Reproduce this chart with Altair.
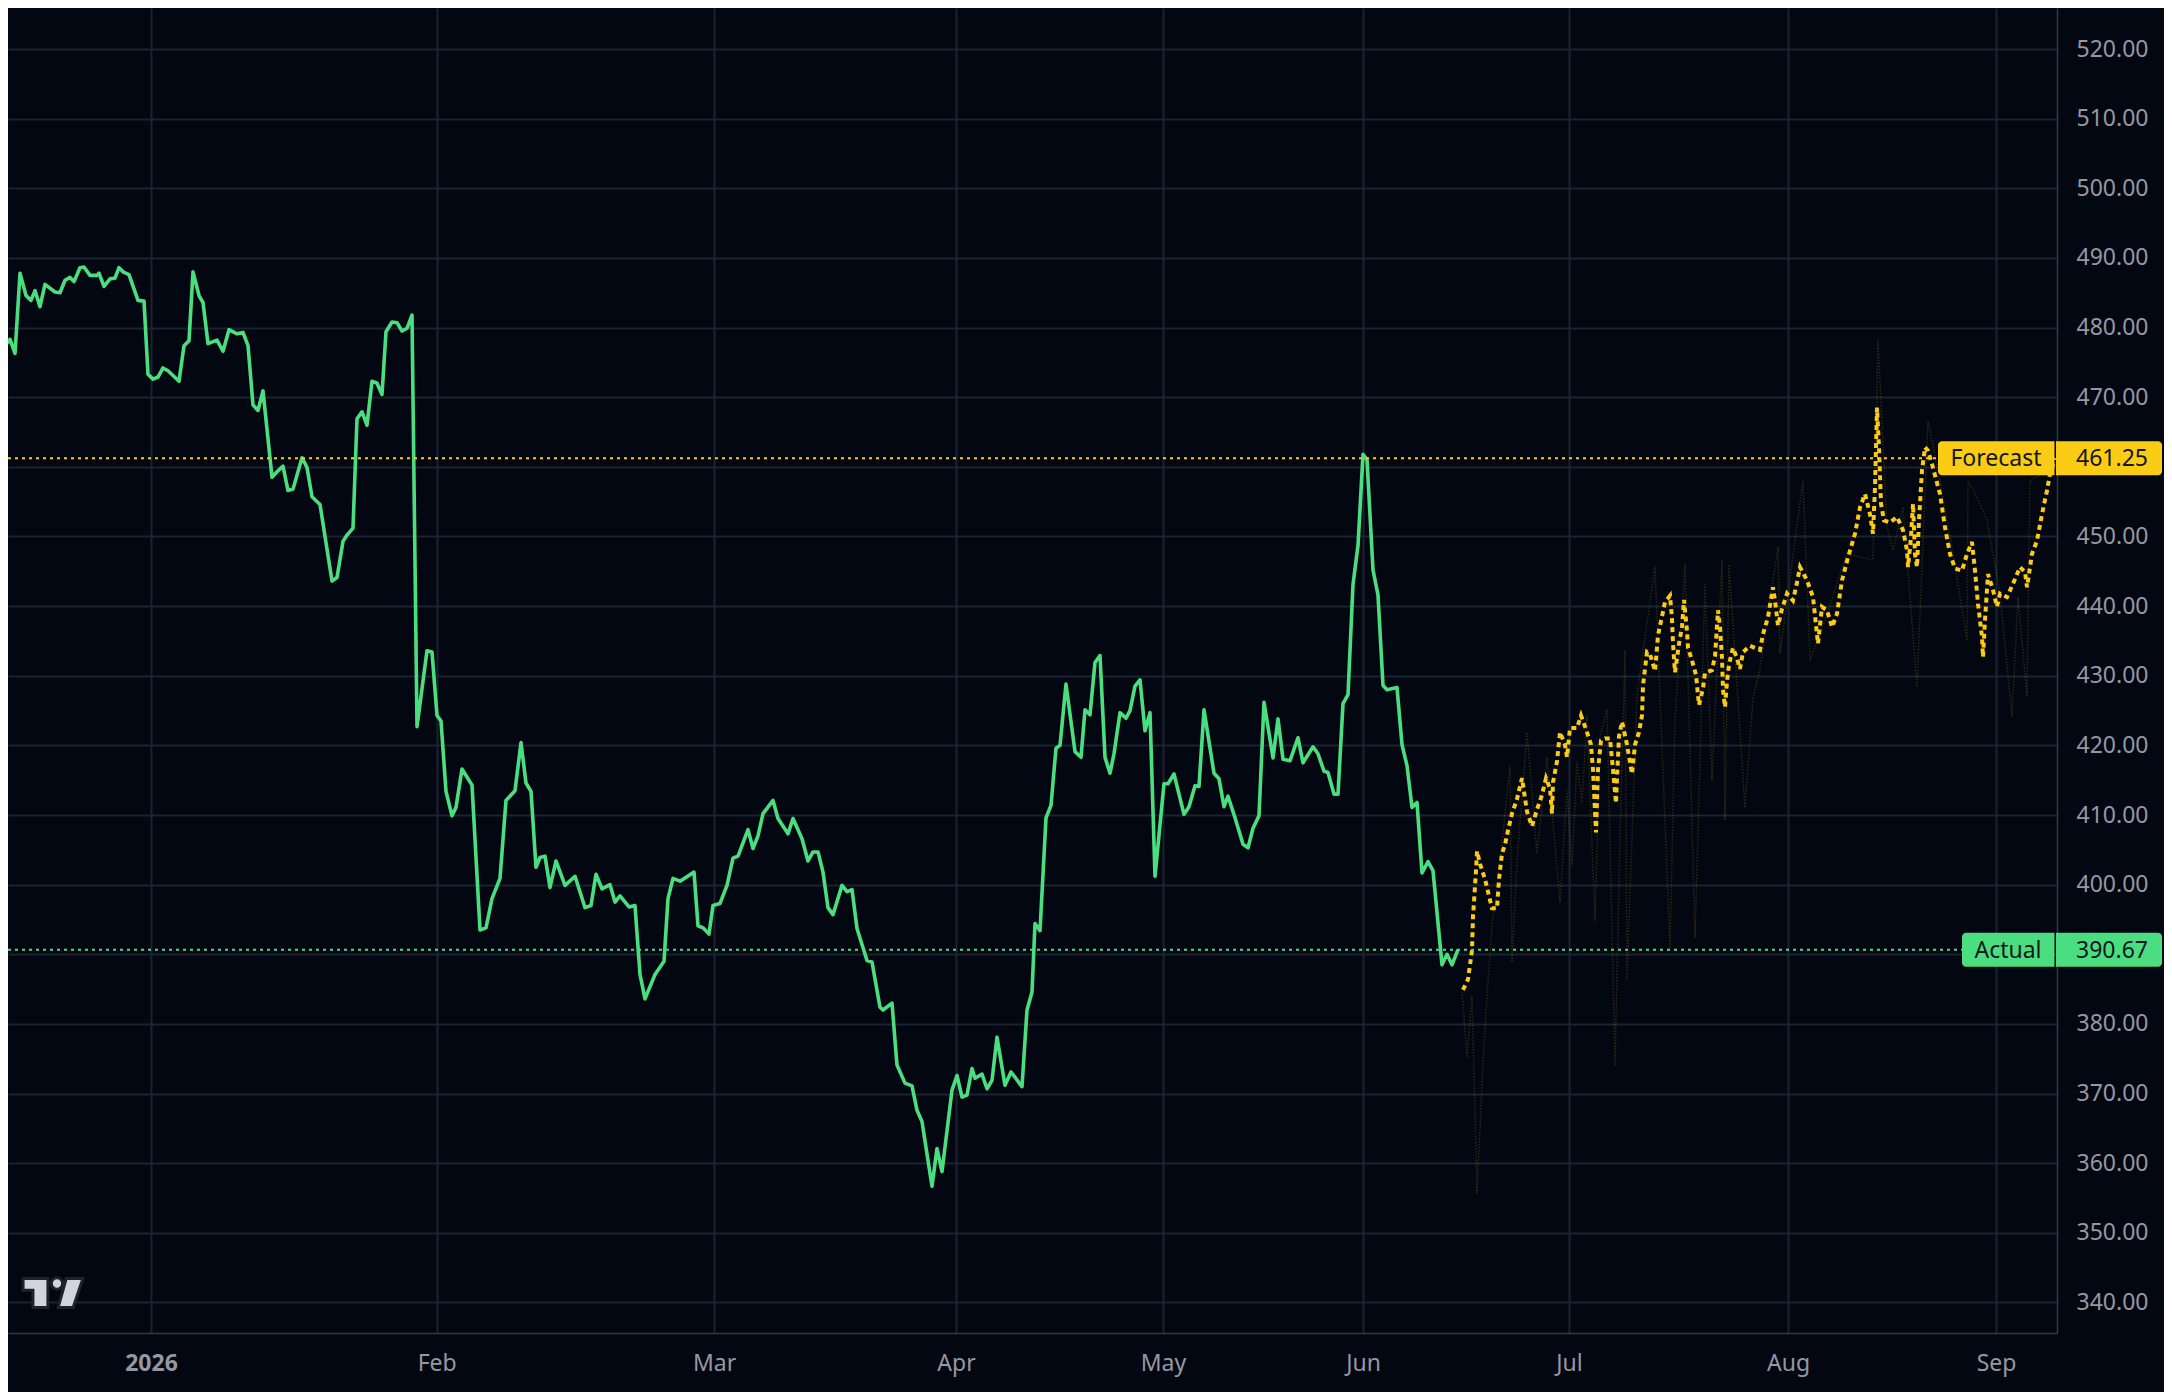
import json
import altair as alt
import pandas as pd

# ---------------- data (t = trading-session index, price in USD) ----------------
actual_jan = [(0.0,476.4),(1.0,478.3),(1.5,476.3),(2.0,487.8),(2.6,484.6),(3.1,483.9),(3.5,485.3),(4.0,483.0),
    (4.5,486.2),(5.5,485.1),(6.0,485.0),(6.5,486.8),(7.0,487.2),(7.4,486.6),(8.0,488.6),(8.4,488.7),(9.0,487.5),
    (9.7,487.5),(9.9,487.8),(10.4,485.9),(11.0,487.0),(11.5,487.1),(11.9,488.6),(12.3,488.0),(12.9,487.6),
    (13.8,483.9),(14.4,483.8),(14.8,473.3),(15.3,472.6),(15.8,472.9),(16.3,474.2),(16.8,473.8),(17.9,472.3),
    (18.4,477.4),(18.9,478.1),(19.3,488.0),(19.9,484.6),(20.3,483.6),(20.8,477.7),(21.7,478.2),(22.3,476.6),
    (22.9,479.7),(23.7,479.1),(24.3,479.3),(24.8,477.4),(25.3,468.9),(25.8,468.1),(26.3,470.9),(27.2,458.5),
    (27.7,459.3),(28.3,460.1),(28.8,456.6),(29.3,456.8),(30.2,461.3),(30.7,459.9),(31.2,455.7),(32.0,454.6),
    (33.2,443.6),(33.7,444.1),(34.3,449.3),(34.7,450.2),(35.3,451.2),(35.7,466.9),(36.2,467.9),(36.7,466.0),
    (37.2,472.3),(37.7,472.0),(38.2,470.4),(38.6,479.4),(39.2,480.8),(39.7,480.7),(40.2,479.5),(40.7,479.9),
    (41.2,481.8),(41.7,422.7),(42.7,433.6),(43.2,433.4)]
actual_feb = [(43.7,424.3),(44.1,423.5),(44.6,413.4),(45.2,409.9),(45.6,411.1),(46.2,416.6),(47.2,414.3),
    (48.0,393.5),(48.6,393.8),(49.2,398.0),(50.0,400.9),(50.6,412.1),(51.5,413.5),(52.1,420.4),(52.6,414.6),
    (53.1,413.4),(53.6,402.5),(54.0,403.9),(54.5,404.1),(55.0,399.6),(55.6,403.4),(56.5,399.9),(57.5,401.2),
    (58.5,396.7),(59.1,397.0),(59.6,401.5),(60.2,399.4),(61.0,400.0),(61.5,397.5),(62.0,398.4),(62.9,396.8),
    (63.5,397.0),(64.0,387.1),(64.5,383.6),(65.5,387.1),(66.4,389.0),(66.8,398.0),(67.3,400.9),(68.0,400.5),
    (69.4,401.8),(69.8,394.1),(70.3,393.8),(70.9,392.9),(71.3,397.0)]
actual_mar = [(72.0,397.3),(72.7,399.9),(73.3,403.8),(73.8,404.1),(74.8,407.9),(75.3,405.2),(75.8,407.0),
    (76.3,410.2),(77.3,412.1),(77.8,409.5),(78.8,407.3),(79.3,409.5),(80.2,406.6),(80.8,403.4),(81.3,404.7),
    (81.8,404.7),(82.3,401.8),(82.8,396.7),(83.3,395.7),(84.2,399.9),(84.7,399.0),(85.2,399.3),(85.7,393.7),
    (86.7,389.1),(87.2,388.9),(88.0,382.4),(88.3,382.0),(89.2,383.0),(89.7,374.1),(90.5,371.5),(91.2,371.1),
    (91.7,367.6),(92.2,366.0),(93.2,356.7),(93.7,362.1),(94.2,358.8),(95.2,370.5)]
actual_apr = [(95.7,372.6),(96.2,369.5),(96.7,369.8),(97.2,373.6),(97.5,372.2),(98.2,372.8),(98.7,370.7),
    (99.2,371.9),(99.7,378.1),(100.5,371.2),(101.1,373.1),(102.2,371.0),(102.7,382.0),(103.2,384.6),
    (103.5,394.4),(104.0,393.4),(104.6,409.6),(105.1,411.4),(105.6,419.6),(106.0,420.0),(106.6,428.8),
    (107.5,419.1),(108.1,418.3),(108.5,425.1),(109.0,424.4),(109.5,431.9),(110.0,432.9),(110.5,418.3),
    (111.0,416.0),(111.4,418.8),(112.0,424.7),(112.6,423.9),(113.0,425.0),(113.5,428.5),(114.0,429.4),
    (114.5,422.1),(115.0,424.7),(115.5,401.2),(116.4,414.5)]
actual_may = [(116.8,414.5),(117.4,415.9),(118.4,410.1),(118.9,411.2),(119.5,414.2),(119.9,414.1),
    (120.4,425.1),(121.4,416.0),(121.9,415.2),(122.4,411.2),(122.8,412.7),(123.5,409.6),(124.3,405.8),
    (124.8,405.3),(125.3,408.1),(125.9,409.9),(126.4,426.2),(127.3,418.2),(127.8,423.8),(128.3,418.0),
    (129.0,417.8),(129.8,421.1),(130.3,417.5),(131.3,419.8),(131.8,418.8),(132.4,416.3),(132.8,416.1),
    (133.4,413.0),(133.8,413.0),(134.3,426.0),(134.8,427.3),(135.3,443.1),(135.8,448.7),(136.3,461.8)]
actual_jun = [(136.7,461.0),(137.3,445.2),(137.8,441.6),(138.3,428.6),(138.7,428.0),(139.7,428.3),
    (140.2,420.1),(140.7,417.1),(141.2,411.1),(141.7,411.8),(142.2,401.7),(142.8,403.3),(143.3,402.0),
    (144.2,388.5),(144.7,390.0),(145.2,388.5),(145.8,390.67)]

forecast_jun = [(146.3,384.9),(146.8,386.4),(147.2,390.6),(147.3,395.4),(147.6,402.0),(147.7,404.8),
    (148.0,403.0),(148.5,400.8),(148.8,399.0),(149.2,396.6),(149.7,396.6),(149.9,400.8),(150.2,404.5),
    (150.5,405.7),(150.8,407.8),(151.2,410.2),(151.7,412.3),(152.2,415.3),(152.7,410.5),(153.2,408.4),
    (153.7,410.8),(154.2,412.9),(154.6,415.3),(155.0,413.8),(155.2,410.2),(155.3,414.7),(155.7,417.7),
    (156.0,421.9),(156.5,420.1),(156.7,418.3)]
forecast_jul = [(157.0,422.5),(157.7,422.5),(158.1,424.3),(158.7,421.9),(159.1,420.1),(159.3,416.5),
    (159.5,410.5),(159.6,407.5),(159.8,416.5),(160.1,420.7),(160.5,421.0),(161.0,421.0),(161.3,416.5),
    (161.6,411.7),(161.7,415.3),(161.9,421.3),(162.2,423.4),(162.7,420.1),(163.2,415.9),(163.5,420.1),
    (163.9,421.9),(164.2,424.3),(164.3,428.6),(164.7,433.4),(165.0,433.1),(165.5,430.7),(165.8,435.8),
    (166.2,438.5),(166.5,440.6),(167.0,441.5),(167.2,438.2),(167.3,434.6),(167.5,430.5),(167.9,434.6),
    (168.2,437.0),(168.4,440.9),(168.7,436.4),(168.8,434.0),(169.2,432.2),(169.6,430.1),(169.9,425.8),
    (170.3,428.2),(170.5,430.4),(171.2,430.8),(171.5,432.8),(171.8,439.4),(172.0,437.0),(172.2,432.5),
    (172.3,428.0),(172.5,425.5),(172.7,429.2),(172.9,431.6),(173.3,434.0),(173.7,432.5),(174.0,431.0),
    (174.3,433.4),(175.0,434.3),(176.0,433.7),(176.3,436.0),(176.8,438.4),(177.3,442.7),(177.5,440.8),
    (177.8,437.2),(178.2,439.6)]
forecast_aug = [(178.7,441.8),(179.3,440.8),(179.7,443.4),(180.0,445.6),(180.7,443.7),(181.3,441.3),
    (181.8,434.6),(182.2,439.9),(182.7,439.4),(183.2,437.0),(183.7,438.9),(184.2,443.7),(184.8,447.0),
    (185.5,450.4),(186.0,454.2),(186.5,456.1),(187.0,453.2),(187.3,450.4),(187.5,457.1),(187.7,468.5),
    (187.9,462.8),(188.1,454.7),(188.4,452.3),(189.0,452.0),(189.7,452.8),(190.3,450.9),(190.7,448.0),
    (190.8,445.6),(191.1,449.9),(191.3,454.7),(191.5,447.5),(191.7,445.6),(191.9,452.3),(192.2,459.5),
    (192.5,462.8),(192.8,462.3),(193.2,460.4),(194.0,456.1),(194.5,451.3),(195.0,447.5),(195.5,445.4),
    (196.2,445.1),(196.7,447.5),(197.2,449.2),(197.5,445.1),(197.8,440.3),(198.2,435.6),(198.3,432.7),
    (198.5,438.0),(198.8,444.6),(199.3,442.3)]
forecast_sep = [(199.7,439.9),(200.0,441.8),(200.7,441.3),(201.3,443.2),(202.0,445.6),(202.5,444.9),
    (202.7,442.7),(203.2,447.5),(203.7,449.4),(204.2,453.2),(204.7,456.6),(205.0,459.0),(205.5,461.25)]

forecast_band = [(146.2,384.6),(146.7,375.2),(147.2,384.0),(147.7,355.7),(148.3,374.3),(148.7,384.0),
    (149.2,394.2),(149.7,399.0),(151.0,417.1),(151.2,388.8),(151.7,403.3),(152.7,421.9),(153.7,404.5),
    (154.7,418.3),(156.0,397.5),(156.7,413.5),(157.2,402.7),(157.7,417.7),(158.2,411.7),(158.7,424.3),
    (159.5,394.8),(160.0,421.3),(160.7,425.2),(161.5,374.0),(162.0,406.9),(162.5,433.7),(162.7,386.4),
    (163.7,427.3),(165.5,445.7),(167.0,390.6),(167.5,423.7),(168.5,446.0),(169.5,392.4),(170.5,443.3),
    (171.2,415.0),(172.2,446.6),(172.5,409.3),(172.9,446.0),(174.5,411.1),(175.3,426.7),(176.0,431.0),
    (177.8,448.5),(178.0,433.2),(180.3,458.0),(181.0,432.2),(182.5,438.0),(184.7,447.5),(187.3,446.6),
    (187.8,478.3),(188.7,451.3),(189.3,448.0),(190.3,454.2),(191.7,428.4),(192.8,466.6),(194.0,458.0),
    (195.3,447.5),(196.7,435.1),(196.8,458.0),(197.7,455.6),(198.7,452.3),(200.0,441.8),(201.2,424.1),
    (201.8,441.3),(202.7,427.0),(203.0,458.0),(204.7,459.5)]

month_ticks = [15.1, 43.67, 71.4, 95.6, 116.3, 136.3, 156.9, 178.8, 199.6]
month_labels = ["2026", "Feb", "Mar", "Apr", "May", "Jun", "Jul", "Aug", "Sep"]
price_ticks = list(range(340, 521, 10))
hidden_price_labels = [390, 460]   # covered by the price tags in the original
forecast_last = 461.25
actual_last = 390.67

# ---------------- styling ----------------
BG = "#030712"
GREEN = "#4ade80"
YELLOW = "#facc15"
FONT = "Noto Sans"
W, H = 2049, 1325
X_DOMAIN = [0.8, 205.7]
Y_DOMAIN = [335.62, 525.89]


def frame(*segments):
    rows = []
    for seg in segments:
        rows.extend(seg)
    return pd.DataFrame(rows, columns=["t", "price"])


actual_df = frame(actual_jan, actual_feb, actual_mar, actual_apr, actual_may, actual_jun)
forecast_df = frame(forecast_jun, forecast_jul, forecast_aug, forecast_sep)
band_df = frame(forecast_band)

x_label_expr = "%s[indexof(%s, datum.value)]" % (json.dumps(month_labels), json.dumps(month_ticks))
y_label_expr = "indexof(%s, datum.value) >= 0 ? '' : format(datum.value, '.2f')" % json.dumps(hidden_price_labels)

x_enc = alt.X(
    "t:Q",
    scale=alt.Scale(domain=X_DOMAIN, nice=False, zero=False),
    axis=alt.Axis(
        values=month_ticks, labelExpr=x_label_expr, title=None, grid=True,
        labelBaseline="middle", labelPadding=30, labelFlush=False, labelOverlap=False,
        labelFontWeight={"condition": {"test": "datum.value == %s" % month_ticks[0], "value": "bold"},
                         "value": "normal"},
    ),
)
y_enc = alt.Y(
    "price:Q",
    scale=alt.Scale(domain=Y_DOMAIN, nice=False, zero=False),
    axis=alt.Axis(
        orient="right", values=price_ticks, labelExpr=y_label_expr, title=None, grid=True,
        labelAlign="right", labelPadding=91, labelOverlap=False, labelFlush=False,
    ),
)

band = alt.Chart(band_df).mark_line(
    color=YELLOW, opacity=0.17, strokeWidth=1.5, strokeDash=[1.5, 1.5], clip=True
).encode(x=x_enc, y=y_enc)

actual_line = alt.Chart(actual_df).mark_line(
    color=GREEN, strokeWidth=3.6, strokeJoin="round", clip=True
).encode(x=x_enc, y=y_enc)

forecast_line = alt.Chart(forecast_df).mark_line(
    color=YELLOW, strokeWidth=4, strokeDash=[5, 4], clip=True
).encode(x=x_enc, y=y_enc)


def price_tag(value, color, name, box_left, name_center):
    d = pd.DataFrame({"price": [value], "name": [name], "txt": ["%.2f" % value]})
    base = alt.Chart(d)
    rule = base.mark_rule(color=color, strokeWidth=2, strokeDash=[3, 4]).encode(
        y=y_enc, x=alt.value(0), x2=alt.value(box_left))
    box1 = base.mark_rect(color=color, yOffset=-17, y2Offset=17,
                          cornerRadiusTopLeft=4, cornerRadiusBottomLeft=4).encode(
        y=y_enc, y2="price:Q", x=alt.value(box_left), x2=alt.value(2046.5))
    box2 = base.mark_rect(color=color, yOffset=-17, y2Offset=17,
                          cornerRadiusTopRight=4, cornerRadiusBottomRight=4).encode(
        y=y_enc, y2="price:Q", x=alt.value(2048), x2=alt.value(2154))
    t1 = base.mark_text(font=FONT, fontSize=23, color="#131722", align="center",
                        baseline="middle", dy=1).encode(
        y=y_enc, x=alt.value(name_center), text="name:N")
    t2 = base.mark_text(font=FONT, fontSize=23, color="#131722", align="right",
                        baseline="middle", dy=1).encode(
        y=y_enc, x=alt.value(2140), text="txt:N")
    return [rule, box1, box2, t1, t2]


forecast_tag = price_tag(forecast_last, YELLOW, "Forecast", 1930, 1988)
actual_tag = price_tag(actual_last, GREEN, "Actual", 1954, 2000)

logo_path = ("M-0.88,-0.43 L-0.15,-0.43 L-0.15,0.43 L-0.59,0.43 L-0.59,-0.08 L-0.88,-0.08 Z "
             "M-0.05,-0.28 A0.167,0.167 0 1,0 0.284,-0.28 A0.167,0.167 0 1,0 -0.05,-0.28 Z "
             "M0.39,-0.43 L0.88,-0.43 L0.59,0.43 L0.15,0.43 Z")
logo = alt.Chart(pd.DataFrame({"k": [0]})).mark_point(
    shape=logo_path, filled=True, fill="#d1d4dc", stroke="#1e222d", strokeWidth=3,
    opacity=1, size=4624
).encode(x=alt.value(45), y=alt.value(1285))

chart = alt.layer(
    band, actual_line, forecast_line, *forecast_tag, *actual_tag, logo
).properties(
    width=W, height=H, background=BG,
    padding={"left": 0, "top": 0, "right": 107, "bottom": 59},
    autosize=alt.AutoSizeParams(type="none"),
).configure_view(stroke=None).configure_axis(
    domainColor="#2f3a4a", domainWidth=1.5, gridColor="#1c2330", gridWidth=2,
    ticks=False, tickSize=0, labelFont=FONT, labelFontSize=23, labelColor="#9598a1",
)

chart.save("out.html", embed_options={"renderer": "svg", "actions": False})
